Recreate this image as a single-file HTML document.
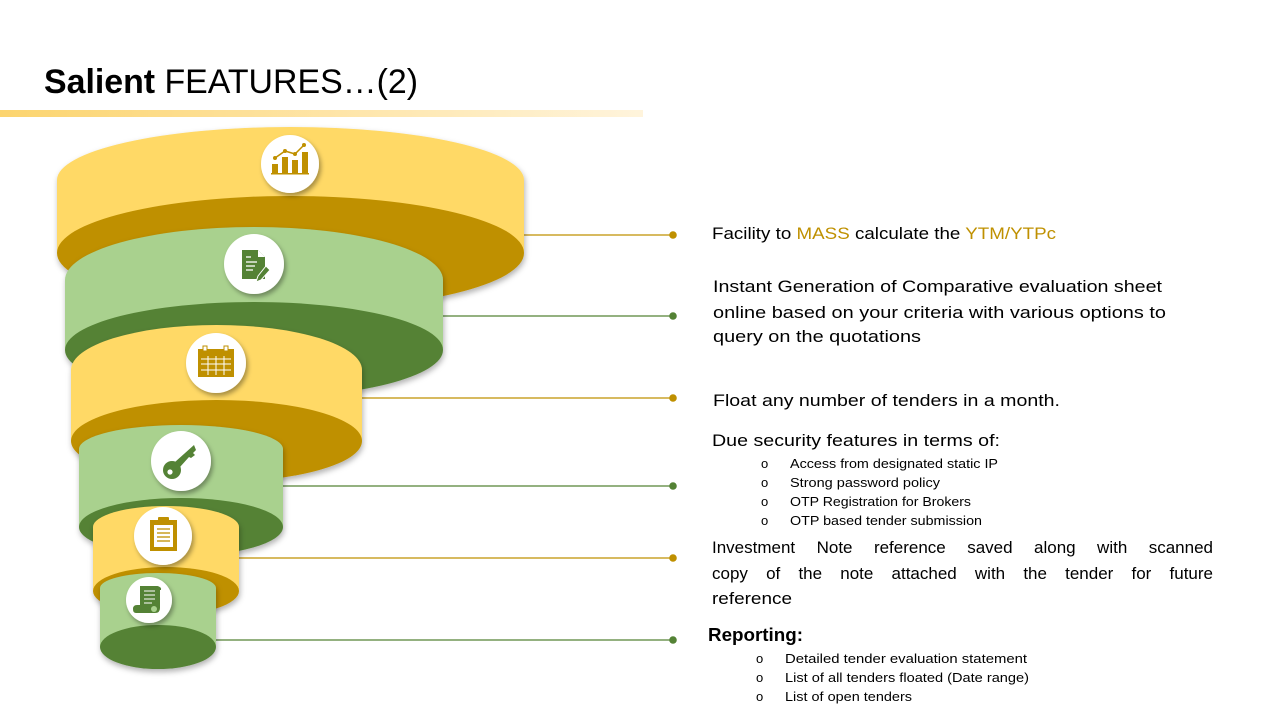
<!DOCTYPE html>
<html><head><meta charset="utf-8"><style>
html,body{margin:0;padding:0;background:#fff;width:1280px;height:720px;overflow:hidden;position:relative}
svg{display:block;position:absolute;left:0;top:0}
text{font-family:"Liberation Sans",sans-serif}
.j{position:absolute;left:712px;width:501px;font:17px "Liberation Sans",sans-serif;text-align:justify;text-align-last:justify;white-space:nowrap;line-height:20px;color:#000}
</style></head><body>
<svg width="1280" height="720" viewBox="0 0 1280 720" xmlns="http://www.w3.org/2000/svg">
<defs>
<linearGradient id="bar" x1="0" x2="1" y1="0" y2="0">
<stop offset="0" stop-color="#fcd46e"/><stop offset="1" stop-color="#fff4dc"/>
</linearGradient>
<filter id="sh" x="-20%" y="-20%" width="140%" height="140%">
<feDropShadow dx="1" dy="3" stdDeviation="3" flood-color="#000" flood-opacity="0.3"/>
</filter>
<filter id="cs" x="-30%" y="-30%" width="160%" height="160%">
<feDropShadow dx="2" dy="3" stdDeviation="2.5" flood-color="#000" flood-opacity="0.35"/>
</filter>
</defs>

<text x="44" y="93" font-size="34" textLength="374" lengthAdjust="spacingAndGlyphs" fill="#000"><tspan font-weight="bold">Salient</tspan> FEATURES…(2)</text>
<rect x="0" y="110" width="643" height="7" fill="url(#bar)"/>

<g stroke-width="1.3">
<line x1="517" y1="235" x2="673" y2="235" stroke="#bf9000"/>
<line x1="443" y1="316" x2="673" y2="316" stroke="#548235"/>
<line x1="362" y1="398" x2="673" y2="398" stroke="#bf9000"/>
<line x1="283" y1="486" x2="673" y2="486" stroke="#548235"/>
<line x1="239" y1="558" x2="673" y2="558" stroke="#bf9000"/>
<line x1="216" y1="640" x2="673" y2="640" stroke="#548235"/>
</g>
<circle cx="673" cy="235" r="3.8" fill="#bf9000"/>
<circle cx="673" cy="316" r="3.8" fill="#548235"/>
<circle cx="673" cy="398" r="3.8" fill="#bf9000"/>
<circle cx="673" cy="486" r="3.8" fill="#548235"/>
<circle cx="673" cy="558" r="3.8" fill="#bf9000"/>
<circle cx="673" cy="640" r="3.8" fill="#548235"/>

<g filter="url(#sh)">
<path d="M57,180 A233.5,53 0 0 1 524,180 L524,253 L57,253 Z" fill="#ffd966"/>
<ellipse cx="290.5" cy="253" rx="233.5" ry="57" fill="#bf9000"/>
</g>
<g filter="url(#sh)">
<path d="M65,280 A189,53 0 0 1 443,280 L443,350 L65,350 Z" fill="#a9d18e"/>
<ellipse cx="254" cy="350" rx="189" ry="48" fill="#548235"/>
</g>
<g filter="url(#sh)">
<path d="M71,370 A145.5,45 0 0 1 362,370 L362,441 L71,441 Z" fill="#ffd966"/>
<ellipse cx="216.5" cy="441" rx="145.5" ry="41" fill="#bf9000"/>
</g>
<g filter="url(#sh)">
<path d="M79,449 A102,24 0 0 1 283,449 L283,527 L79,527 Z" fill="#a9d18e"/>
<ellipse cx="181" cy="527" rx="102" ry="29" fill="#548235"/>
</g>
<g filter="url(#sh)">
<path d="M93,527 A73,21 0 0 1 239,527 L239,591 L93,591 Z" fill="#ffd966"/>
<ellipse cx="166" cy="591" rx="73" ry="24" fill="#bf9000"/>
</g>
<g filter="url(#sh)">
<path d="M100,588 A58,15 0 0 1 216,588 L216,647 L100,647 Z" fill="#a9d18e"/>
<ellipse cx="158" cy="647" rx="58" ry="22" fill="#548235"/>
</g>

<g filter="url(#cs)" fill="#fff">
<circle cx="290" cy="164" r="29"/>
<circle cx="254" cy="264" r="30"/>
<circle cx="216" cy="363" r="30"/>
<circle cx="181" cy="461" r="30"/>
<circle cx="163" cy="536" r="29"/>
<circle cx="149" cy="600" r="23"/>
</g>
<g fill="#bf9000">
<rect x="272" y="164" width="6" height="9"/><rect x="282" y="157" width="6" height="16"/><rect x="292" y="160" width="6" height="13"/><rect x="302" y="152" width="6" height="21"/>
<rect x="271" y="173" width="38" height="1.5"/>
<polyline points="275,158 285,151 295,154 304,145" fill="none" stroke="#bf9000" stroke-width="1.5"/>
<circle cx="275" cy="158" r="2"/><circle cx="285" cy="151" r="2"/><circle cx="295" cy="154" r="2"/><circle cx="304" cy="145" r="2"/>
</g>
<g>
<path d="M242,250 L258,250 L265,257 L265,279 L242,279 Z" fill="#548235"/>
<path d="M258,250 L265,257 L258,257 Z" fill="#fff"/>
<g stroke="#fff" stroke-width="1.3"><line x1="246" y1="257" x2="251" y2="257"/><line x1="246" y1="262" x2="257" y2="262"/><line x1="246" y1="266" x2="255" y2="266"/><line x1="246" y1="270" x2="253" y2="270"/></g>
<path d="M266,266 L270,270 L261,280 L256,282 L258,276 Z" fill="#548235" stroke="#fff" stroke-width="1"/>
</g>
<g>
<rect x="198" y="349" width="36" height="28" fill="#bf9000"/>
<rect x="203" y="346" width="4" height="5" fill="#fff" stroke="#bf9000"/><rect x="224" y="346" width="4" height="5" fill="#fff" stroke="#bf9000"/>
<g stroke="#fff" stroke-width="1"><line x1="201" y1="359" x2="231" y2="359"/><line x1="201" y1="364" x2="231" y2="364"/><line x1="201" y1="370" x2="231" y2="370"/><line x1="208" y1="356" x2="208" y2="375"/><line x1="216" y1="356" x2="216" y2="375"/><line x1="224" y1="356" x2="224" y2="375"/></g>
</g>
<g fill="#548235">
<circle cx="172" cy="470" r="9"/>
<path d="M175,462 L194,445 L196,450 L193,453 L195,455 L191,458 L189,457 L180,467 Z"/>
<circle cx="170" cy="472" r="2.6" fill="#fff"/>
</g>
<g>
<rect x="150" y="520" width="27" height="31" fill="#bf9000"/>
<rect x="154" y="525" width="19" height="22" fill="#fff"/>
<rect x="158" y="517" width="11" height="5" rx="1" fill="#bf9000"/>
<g stroke="#bf9000" stroke-width="1.3"><line x1="157" y1="529" x2="170" y2="529"/><line x1="157" y1="533" x2="170" y2="533"/><line x1="157" y1="537" x2="170" y2="537"/><line x1="157" y1="541" x2="170" y2="541"/></g>
</g>
<g>
<path d="M140,586 L157,586 Q160,586 160,590 L160,608 Q160,613 155,613 L136,613 Q133,613 133,609 Q133,605 137,605 L140,605 Z" fill="#548235"/>
<path d="M157,586 Q162,587 161,590 L158,590 Z" fill="#548235"/>
<circle cx="154" cy="609" r="3" fill="#a9d18e"/>
<g stroke="#fff" stroke-width="1"><line x1="144" y1="591" x2="155" y2="591"/><line x1="144" y1="595" x2="155" y2="595"/><line x1="144" y1="599" x2="155" y2="599"/><line x1="144" y1="603" x2="152" y2="603"/></g>
</g>

<g font-size="17" fill="#000">
<text x="712" y="239" textLength="344" lengthAdjust="spacingAndGlyphs">Facility to <tspan fill="#bf9000">MASS</tspan> calculate the <tspan fill="#bf9000">YTM/YTPc</tspan></text>
<text x="713" y="292" textLength="449" lengthAdjust="spacingAndGlyphs">Instant Generation of Comparative evaluation sheet</text>
<text x="713" y="318" textLength="453" lengthAdjust="spacingAndGlyphs">online based on your criteria with various options to</text>
<text x="713" y="342" textLength="208" lengthAdjust="spacingAndGlyphs">query on the quotations</text>
<text x="713" y="406" textLength="347" lengthAdjust="spacingAndGlyphs">Float any number of tenders in a month.</text>
<text x="712" y="446" textLength="288" lengthAdjust="spacingAndGlyphs">Due security features in terms of:</text>
<text x="712" y="604" textLength="80" lengthAdjust="spacingAndGlyphs">reference</text>
<text x="708" y="641" font-size="18" font-weight="bold" textLength="95" lengthAdjust="spacingAndGlyphs">Reporting:</text>
</g>
<g font-size="13" fill="#000">
<text x="761" y="468">o</text><text x="790" y="468" textLength="208" lengthAdjust="spacingAndGlyphs">Access from designated static IP</text>
<text x="761" y="487">o</text><text x="790" y="487" textLength="150" lengthAdjust="spacingAndGlyphs">Strong password policy</text>
<text x="761" y="506">o</text><text x="790" y="506" textLength="181" lengthAdjust="spacingAndGlyphs">OTP Registration for Brokers</text>
<text x="761" y="525">o</text><text x="790" y="525" textLength="192" lengthAdjust="spacingAndGlyphs">OTP based tender submission</text>
<text x="756" y="663">o</text><text x="785" y="663" textLength="242" lengthAdjust="spacingAndGlyphs">Detailed tender evaluation statement</text>
<text x="756" y="682">o</text><text x="785" y="682" textLength="244" lengthAdjust="spacingAndGlyphs">List of all tenders floated (Date range)</text>
<text x="756" y="701">o</text><text x="785" y="701" textLength="127" lengthAdjust="spacingAndGlyphs">List of open tenders</text>
</g>
</svg>
<div class="j" style="top:538px">Investment Note reference saved along with scanned</div>
<div class="j" style="top:564px">copy of the note attached with the tender for future</div>
</body></html>
